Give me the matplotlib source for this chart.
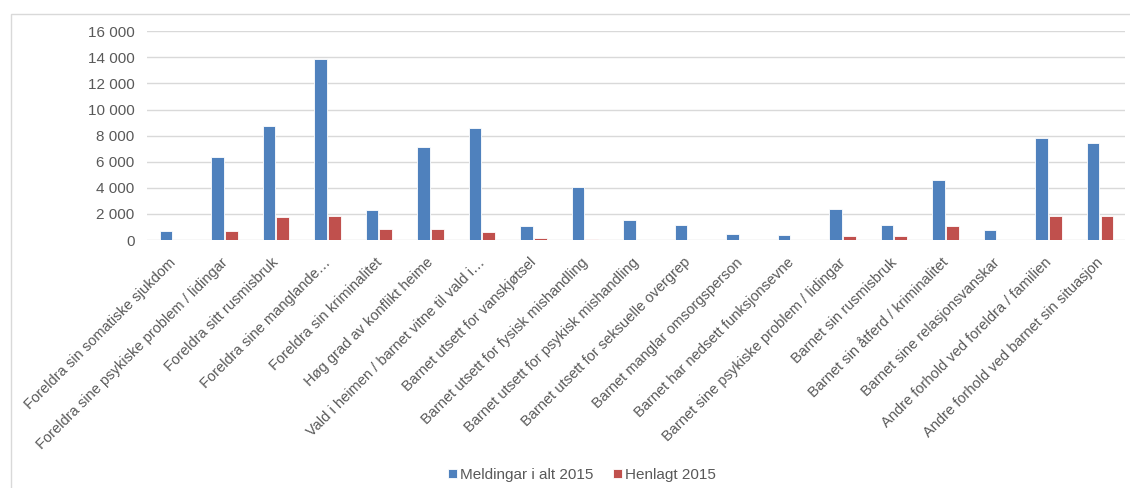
import numpy as np
import matplotlib.pyplot as plt
from matplotlib.patches import Rectangle
from matplotlib.ticker import FuncFormatter
from matplotlib.transforms import ScaledTranslation

plt.rcParams['font.family'] = ['Liberation Sans', 'DejaVu Sans']

categories = [
    'Foreldra sin somatiske sjukdom',
    'Foreldra sine psykiske problem / lidingar',
    'Foreldra sitt rusmisbruk',
    'Foreldra sine manglande…',
    'Foreldra sin kriminalitet',
    'Høg grad av konflikt heime',
    'Vald i heimen / barnet vitne til vald i…',
    'Barnet utsett for vanskjøtsel',
    'Barnet utsett for fysisk mishandling',
    'Barnet utsett for psykisk mishandling',
    'Barnet utsett for seksuelle overgrep',
    'Barnet manglar omsorgsperson',
    'Barnet har nedsett funksjonsevne',
    'Barnet sine psykiske problem / lidingar',
    'Barnet sin rusmisbruk',
    'Barnet sin åtferd / kriminalitet',
    'Barnet sine relasjonsvanskar',
    'Andre forhold ved foreldra / familien',
    'Andre forhold ved barnet sin situasjon',
]
meldingar = [690, 6360, 8760, 13850, 2300, 7130, 8560, 1050, 4040, 1530,
             1150, 480, 380, 2400, 1150, 4620, 770, 7790, 7410]
henlagt = [40, 690, 1740, 1840, 870, 870, 590, 130, 100, 40,
           40, 40, 40, 300, 300, 1070, 40, 1840, 1840]
series_names = ['Meldingar i alt 2015', 'Henlagt 2015']

blue = '#4F81BD'
red = '#C0504D'
text_col = '#595959'
grid_col = '#D9D9D9'

fig = plt.figure(figsize=(11.3, 4.88), dpi=100)
ax = fig.add_axes([0.130, 0.508, 0.866, 0.428])

# chart frame
fig.patches.append(Rectangle((11 / 1130, -0.01), 1.1, 1 - 14 / 488 + 0.01,
                             transform=fig.transFigure, fill=False,
                             edgecolor='#D9D9D9', linewidth=1))

x = np.arange(len(categories))
w = 0.25
ax.bar(x - 0.13, meldingar, w, color=blue, edgecolor='white', linewidth=0.6,
       label=series_names[0], zorder=3)
ax.bar(x + 0.14, henlagt, w, color=red, edgecolor='white', linewidth=0.6,
       label=series_names[1], zorder=3)

ax.set_xlim(-0.5, len(categories) - 0.5)
ax.set_ylim(0, 16000)
ax.set_yticks(np.arange(0, 16001, 2000))
ax.yaxis.set_major_formatter(FuncFormatter(lambda v, p: f'{int(v):,}'.replace(',', ' ')))
ax.grid(axis='y', color=grid_col, linewidth=1, zorder=0)
for s in ax.spines.values():
    s.set_visible(False)
ax.tick_params(length=0, colors=text_col)
ax.tick_params(axis='y', pad=9, labelsize=11)

ax.set_xticks(x)
ax.set_xticklabels(categories, rotation=45, ha='right', rotation_mode='anchor',
                   color=text_col, fontsize=10.5)
ax.tick_params(axis='x', pad=11)
shift = ScaledTranslation(-4 / 100, 0, fig.dpi_scale_trans)
for lbl in ax.get_xticklabels():
    lbl.set_transform(lbl.get_transform() + shift)

fig.legend(loc='center', bbox_to_anchor=(0.515, 0.027), ncol=2, frameon=False,
           fontsize=11, handlelength=0.6, handleheight=0.6, handletextpad=0.2,
           columnspacing=1.3, labelcolor=text_col)

fig.savefig('out.png', dpi=100)
